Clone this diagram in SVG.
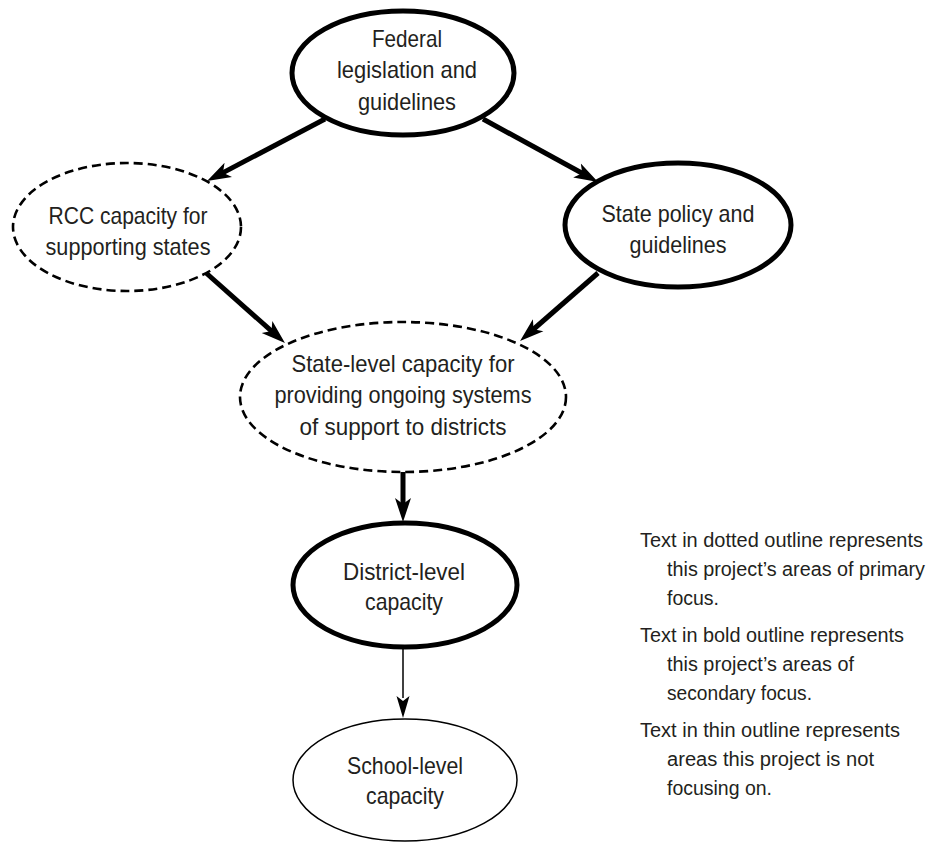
<svg xmlns="http://www.w3.org/2000/svg" width="930" height="846" viewBox="0 0 930 846">
<style>
text{font-family:"Liberation Sans",Arial,sans-serif;fill:#231f20}
.n{font-size:24px;text-anchor:middle}
.lg{font-size:20px}
.bold{fill:#fff;stroke:#000;stroke-width:5}
.dash{fill:#fff;stroke:#000;stroke-width:2.6;stroke-dasharray:9 5}
.thin{fill:#fff;stroke:#000;stroke-width:1.5}
.ck{fill:none;stroke:#000;stroke-width:5}
.cn{fill:none;stroke:#000;stroke-width:1.5}
</style>
<defs>
<marker id="ah" markerUnits="userSpaceOnUse" markerWidth="24" markerHeight="18" viewBox="0 0 24 18" refX="8" refY="9" orient="auto">
<path d="M0,1 L24,9 L0,17 L6,9 Z" fill="#000"/>
</marker>
<marker id="ahs" markerUnits="userSpaceOnUse" markerWidth="24" markerHeight="16" viewBox="0 0 24 16" refX="2" refY="8" orient="auto">
<path d="M0,1.5 L22,8 L0,14.5 L5,8 Z" fill="#000"/>
</marker>
</defs>
<g id="connectors">
<line class="ck" x1="325" y1="119" x2="221.2" y2="173.6" marker-end="url(#ah)"/>
<line class="ck" x1="483" y1="119" x2="584" y2="174.3" marker-end="url(#ah)"/>
<line class="ck" x1="205" y1="272" x2="273" y2="332.4" marker-end="url(#ah)"/>
<line class="ck" x1="598" y1="273" x2="532.1" y2="330.5" marker-end="url(#ah)"/>
<line class="ck" x1="403" y1="472" x2="403" y2="506" marker-end="url(#ah)"/>
<line class="cn" x1="403" y1="648" x2="403" y2="698" marker-end="url(#ahs)"/>
</g>
<g id="federal">
<ellipse class="bold" cx="403" cy="73" rx="111" ry="62"/>
<text class="n" x="407" y="47" textLength="70" lengthAdjust="spacingAndGlyphs">Federal</text>
<text class="n" x="407" y="78" textLength="140" lengthAdjust="spacingAndGlyphs">legislation and</text>
<text class="n" x="407" y="110" textLength="98" lengthAdjust="spacingAndGlyphs">guidelines</text>
</g>
<g id="rcc">
<ellipse class="dash" cx="127" cy="227" rx="114" ry="64"/>
<text class="n" x="128" y="224" textLength="159" lengthAdjust="spacingAndGlyphs">RCC capacity for</text>
<text class="n" x="128" y="255" textLength="165" lengthAdjust="spacingAndGlyphs">supporting states</text>
</g>
<g id="state-policy">
<ellipse class="bold" cx="678" cy="225" rx="113" ry="62"/>
<text class="n" x="678" y="222" textLength="153" lengthAdjust="spacingAndGlyphs">State policy and</text>
<text class="n" x="678" y="253" textLength="97" lengthAdjust="spacingAndGlyphs">guidelines</text>
</g>
<g id="state-level">
<ellipse class="dash" cx="403" cy="397" rx="163" ry="75"/>
<text class="n" x="403" y="372" textLength="223" lengthAdjust="spacingAndGlyphs">State-level capacity for</text>
<text class="n" x="403" y="403" textLength="257" lengthAdjust="spacingAndGlyphs">providing ongoing systems</text>
<text class="n" x="403" y="435" textLength="207" lengthAdjust="spacingAndGlyphs">of support to districts</text>
</g>
<g id="district">
<ellipse class="bold" cx="405" cy="585" rx="112" ry="62"/>
<text class="n" x="404" y="580" textLength="122" lengthAdjust="spacingAndGlyphs">District-level</text>
<text class="n" x="404" y="610" textLength="78" lengthAdjust="spacingAndGlyphs">capacity</text>
</g>
<g id="school">
<ellipse class="thin" cx="405" cy="780" rx="112" ry="61"/>
<text class="n" x="405" y="774" textLength="116" lengthAdjust="spacingAndGlyphs">School-level</text>
<text class="n" x="405" y="804" textLength="78" lengthAdjust="spacingAndGlyphs">capacity</text>
</g>
<g id="legend">
<text class="lg" x="640" y="547" textLength="283" lengthAdjust="spacingAndGlyphs">Text in dotted outline represents</text>
<text class="lg" x="667" y="576" textLength="258" lengthAdjust="spacingAndGlyphs">this project’s areas of primary</text>
<text class="lg" x="667" y="605" textLength="52" lengthAdjust="spacingAndGlyphs">focus.</text>
<text class="lg" x="640" y="642" textLength="264" lengthAdjust="spacingAndGlyphs">Text in bold outline represents</text>
<text class="lg" x="667" y="671" textLength="187" lengthAdjust="spacingAndGlyphs">this project’s areas of</text>
<text class="lg" x="667" y="700" textLength="145" lengthAdjust="spacingAndGlyphs">secondary focus.</text>
<text class="lg" x="640" y="737" textLength="260" lengthAdjust="spacingAndGlyphs">Text in thin outline represents</text>
<text class="lg" x="667" y="766" textLength="207" lengthAdjust="spacingAndGlyphs">areas this project is not</text>
<text class="lg" x="667" y="795" textLength="105" lengthAdjust="spacingAndGlyphs">focusing on.</text>
</g>
</svg>
